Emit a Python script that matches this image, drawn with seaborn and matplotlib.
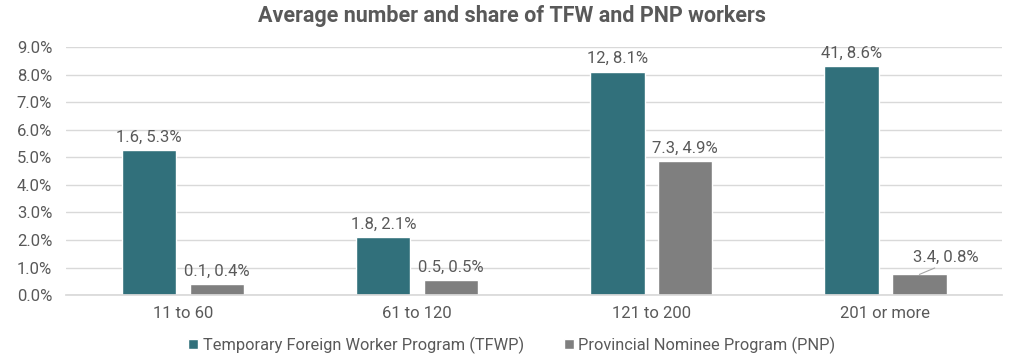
import matplotlib

matplotlib.use("Agg")
import matplotlib.pyplot as plt
import pandas as pd
import seaborn as sns

CATEGORIES = ["11 to 60", "61 to 120", "121 to 200", "201 or more"]
PROGRAMS = ["Temporary Foreign Worker Program (TFWP)", "Provincial Nominee Program (PNP)"]
TFWP_SHARE = [5.25, 2.1, 8.1, 8.3]
PNP_SHARE = [0.4, 0.55, 4.85, 0.75]
TFWP_LABELS = ["1.6, 5.3%", "1.8, 2.1%", "12, 8.1%", "41, 8.6%"]
PNP_LABELS = ["0.1, 0.4%", "0.5, 0.5%", "7.3, 4.9%", "3.4, 0.8%"]
COLORS = ["#31707B", "#7F7F7F"]
TEXT = "#595959"
GRID = "#D9D9D9"

frame = pd.DataFrame(
    {
        "size": CATEGORIES * 2,
        "program": [PROGRAMS[0]] * 4 + [PROGRAMS[1]] * 4,
        "share": TFWP_SHARE + PNP_SHARE,
    }
)

sns.set_theme(style="white")
plt.rcParams["font.family"] = ["Roboto", "DejaVu Sans"]

fig = plt.figure(figsize=(10.24, 3.59), dpi=100)
ax = fig.add_axes([0.0645, 0.178, 0.9145, 0.691])

sns.barplot(
    data=frame,
    x="size",
    y="share",
    hue="program",
    order=CATEGORIES,
    hue_order=PROGRAMS,
    palette=COLORS,
    width=0.58,
    gap=0.2,
    saturation=1,
    ax=ax,
)

ax.set_ylim(0, 9)
ax.set_yticks(range(0, 10))
ax.set_yticklabels([f"{v:.1f}%" for v in range(0, 10)])
ax.set_xlim(-0.5, 3.5)
ax.grid(axis="y", color=GRID, linewidth=1)
ax.set_axisbelow(True)
for side in ["top", "right", "left"]:
    ax.spines[side].set_visible(False)
ax.spines["bottom"].set_color(GRID)
ax.tick_params(axis="both", colors=TEXT, labelsize=12, length=0)
ax.tick_params(axis="x", pad=8)
ax.tick_params(axis="y", pad=10)
ax.set_xlabel("")
ax.set_ylabel("")

# data labels
for container, labels in zip(ax.containers, [TFWP_LABELS, PNP_LABELS]):
    for bar, label in zip(container, labels):
        x = bar.get_x() + bar.get_width() / 2
        y = bar.get_height()
        if label == "3.4, 0.8%":
            ax.annotate(
                label,
                (x, y),
                xytext=(19, 7),
                textcoords="offset points",
                ha="center",
                va="bottom",
                fontsize=12,
                color=TEXT,
                arrowprops=dict(arrowstyle="-", color="#A6A6A6", lw=0.8,
                                shrinkA=0, shrinkB=0, relpos=(0.45, 0)),
            )
        else:
            ax.annotate(
                label,
                (x, y),
                xytext=(0, 4),
                textcoords="offset points",
                ha="center",
                va="bottom",
                fontsize=12,
                color=TEXT,
            )

fig.suptitle(
    "Average number and share of TFW and PNP workers",
    x=0.5,
    y=0.985,
    fontsize=15.5,
    fontweight="bold",
    color=TEXT,
)

legend = ax.legend(
    loc="center",
    bbox_to_anchor=(0.5, 1 - 345 / 359),
    bbox_transform=fig.transFigure,
    ncol=2,
    frameon=False,
    fontsize=11.8,
    handlelength=0.6,
    handleheight=0.6,
    handletextpad=0.3,
    columnspacing=2.4,
)
for text in legend.get_texts():
    text.set_color(TEXT)

fig.savefig("out.png", dpi=100)
